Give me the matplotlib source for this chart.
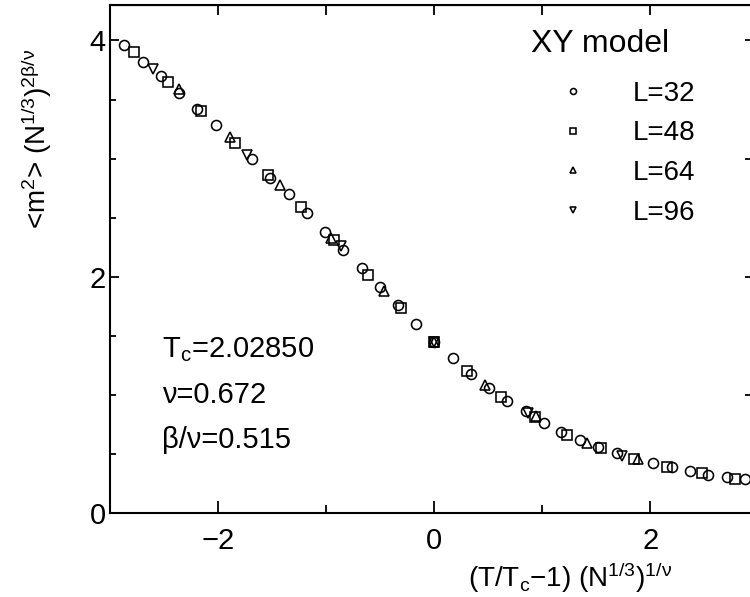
import matplotlib
matplotlib.use("Agg")
import matplotlib.pyplot as plt
from matplotlib.ticker import MultipleLocator

plt.rcParams['font.family'] = ['Liberation Sans', 'DejaVu Sans']
plt.rcParams['mathtext.fontset'] = 'custom'
plt.rcParams['mathtext.rm'] = 'Liberation Sans'
plt.rcParams['mathtext.it'] = 'Liberation Sans'
plt.rcParams['mathtext.bf'] = 'Liberation Sans:bold'

# ---- data: scaled x, scaled <m^2> ----
x32 = [-2.868, -2.699, -2.530, -2.364, -2.191, -2.022, -1.686, -1.517, -1.344, -1.178,
       -1.009, -0.840, -0.670, -0.501, -0.335, -0.164, 0.0, 0.173, 0.342, 0.505,
       0.678, 0.847, 1.016, 1.179, 1.350, 1.521, 1.693, 2.031, 2.201, 2.370,
       2.539, 2.709, 2.878]
y32 = [3.959, 3.819, 3.701, 3.559, 3.423, 3.282, 3.001, 2.840, 2.697, 2.541,
       2.380, 2.226, 2.076, 1.913, 1.761, 1.603, 1.451, 1.313, 1.178, 1.063,
       0.949, 0.865, 0.763, 0.691, 0.624, 0.563, 0.507, 0.423, 0.389, 0.356,
       0.328, 0.305, 0.290]

x48 = [-2.776, -2.462, -2.161, -1.847, -1.538, -1.231, -0.923, -0.615, -0.307, 0.0,
       0.308, 0.616, 0.930, 1.235, 1.546, 1.847, 2.158, 2.478, 2.786]
y48 = [3.902, 3.648, 3.403, 3.136, 2.866, 2.592, 2.310, 2.015, 1.740, 1.451,
       1.207, 0.987, 0.814, 0.664, 0.549, 0.456, 0.391, 0.341, 0.294]

x64 = [-2.364, -1.893, -1.425, -0.954, -0.467, 0.0, 0.468, 0.940, 1.416, 1.890]
y64 = [3.593, 3.183, 2.775, 2.327, 1.883, 1.451, 1.085, 0.827, 0.592, 0.456]

x96 = [-2.600, -1.732, -0.861, 0.0, 0.874, 1.740]
y96 = [3.762, 3.029, 2.260, 1.451, 0.846, 0.487]

series = [(x32, y32, 'o', 7.2, 'L=32'),
          (x48, y48, 's', 6.8, 'L=48'),
          (x64, y64, '^', 7.8, 'L=64'),
          (x96, y96, 'v', 7.8, 'L=96')]

fig = plt.figure(figsize=(7.5, 5.97), dpi=100)
ax = fig.add_axes([110/750, (597-513.3)/597, (752-110)/750, (513.3-5)/597])

for xs, ys, mk, ms, lab in series:
    ax.plot(xs, ys, linestyle='none', marker=mk, markersize=ms, markerfacecolor='none',
            markeredgecolor='black', markeredgewidth=1.15, label=lab)

ax.set_xlim(-3, 2.943)
ax.set_ylim(0, 4.3)

for sp in ax.spines.values():
    sp.set_linewidth(1.5)

ax.xaxis.set_major_locator(MultipleLocator(2))
ax.xaxis.set_minor_locator(MultipleLocator(1))
ax.yaxis.set_major_locator(MultipleLocator(2))
ax.yaxis.set_minor_locator(MultipleLocator(0.5))
ax.tick_params(which='both', direction='in', width=1.3, labelsize=21)
ax.tick_params(axis='x', which='major', length=9, pad=10)
ax.tick_params(axis='x', which='minor', length=6)
ax.tick_params(axis='y', which='major', length=6.5, pad=3)
ax.tick_params(axis='y', which='minor', length=4.5)
ax.set_xticks([-2, 0, 2])
ax.set_xticklabels(['\u22122', '0', '2'])
ax.set_yticks([0, 2, 4])
ax.set_yticklabels(['0', '2', '4'])

top = ax.secondary_xaxis('top')
top.set_xticks([-2, -1, 0, 1, 2])
top.tick_params(direction='in', length=7, width=1.3, labeltop=False)
right = ax.secondary_yaxis('right')
right.set_yticks([0, 1, 2, 3, 4])
right.tick_params(direction='in', length=5, width=1.3, labelright=False)

ax.set_xlabel(r'(T/T$_\mathrm{c}$$-$1) (N$^{1/3}$)$^{1/\mathrm{ν}}$', fontsize=20)
ax.xaxis.set_label_coords(0.7165, -0.092)
ax.set_ylabel(r'<m$^2$> (N$^{1/3}$)$^{2\mathrm{β/ν}}$', fontsize=20)
ax.yaxis.set_label_coords(-0.088, 0.737)

ax.text(0.081, 0.308, r'T$_\mathrm{c}$=2.02850', transform=ax.transAxes, fontsize=21, va='baseline')
ax.text(0.081, 0.217, 'ν=0.672', transform=ax.transAxes, fontsize=21, va='baseline')
ax.text(0.081, 0.128, 'β/ν=0.515', transform=ax.transAxes, fontsize=21, va='baseline')

ax.text(0.6558, 0.908, 'XY model', transform=ax.transAxes, fontsize=23, va='baseline')
leg = ax.legend(loc='upper left', bbox_to_anchor=((531-110)/642, 0.851),
                fontsize=20, frameon=False,
                markerscale=0.6, handlelength=3.0, handletextpad=0.68,
                labelspacing=0.49, borderpad=0, borderaxespad=0)

fig.savefig('out.png', dpi=100)
